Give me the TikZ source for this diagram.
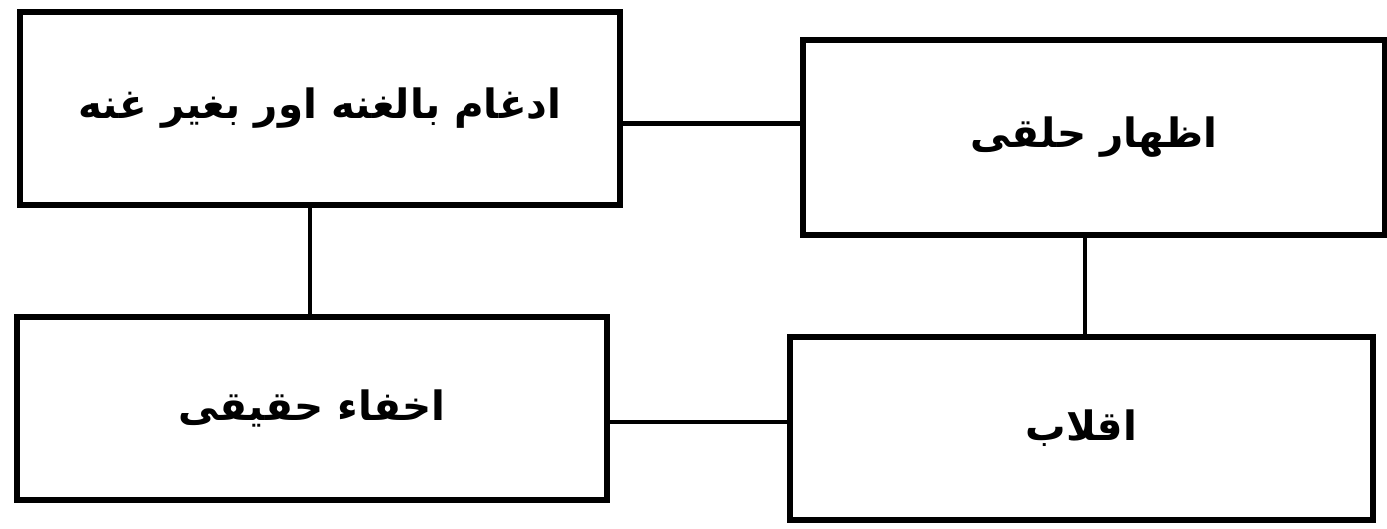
\documentclass[tikz,border=0pt]{standalone}
\usepackage{fontspec}
\newfontfamily\arabicfont[Script=Arabic]{DejaVu Sans}
\TeXXeTstate=1

\begin{document}
\begin{tikzpicture}[x=.02cm,y=-.02cm,
  box/.style={draw,line width=3.5pt,inner sep=0pt,font=\arabicfont\bfseries\fontsize{23}{28}\selectfont},
  hlink/.style={line width=2.6pt},
  vlink/.style={line width=1.8pt}]
\path[use as bounding box] (0,0) rectangle (1387,528);
\node[box,minimum width=12cm,minimum height=3.86cm] (tl) at (320,108.5) {\beginR ادغام بالغنه اور بغیر غنه\endR};
\node[box,minimum width=11.64cm,minimum height=3.9cm] (tr) at (1094,137.5) {\beginR اظھار حلقی\endR};
\node[box,minimum width=11.8cm,minimum height=3.66cm] (bl) at (312,408.5) {\beginR اخفاء حقیقی\endR};
\node[box,minimum width=11.66cm,minimum height=3.66cm] (br) at (1081.5,428.5) {\beginR اقلاب\endR};
\draw[hlink] ([yshift=-.3cm]tl.east) -- ([yshift=-.3cm]tl.east -| tr.west);
\draw[hlink] ([yshift=-.27cm]bl.east) -- ([yshift=-.27cm]bl.east -| br.west);
\draw[vlink] ([xshift=-.2cm]tl.south) -- ([xshift=-.2cm]tl.south |- bl.north);
\draw[vlink] ([xshift=-.18cm]tr.south) -- ([xshift=-.18cm]tr.south |- br.north);
\end{tikzpicture}
\end{document}
